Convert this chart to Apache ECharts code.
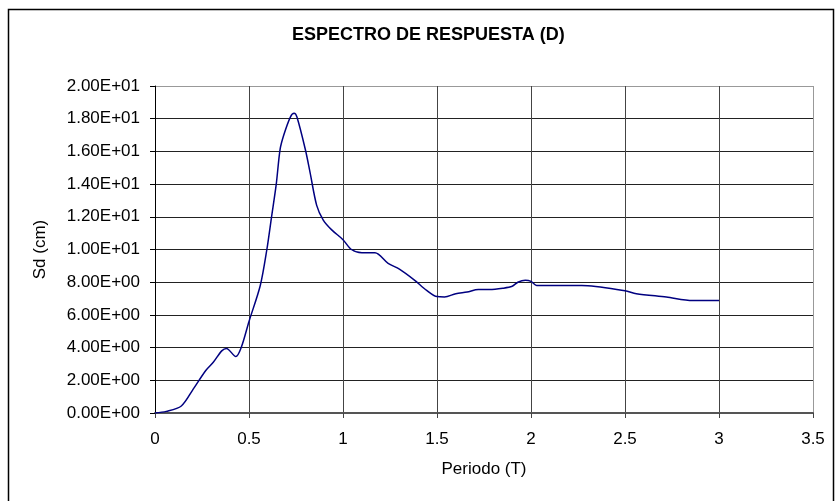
<!DOCTYPE html>
<html>
<head>
<meta charset="utf-8">
<script src="https://cdn.jsdelivr.net/npm/echarts@6/dist/echarts.min.js"></script>
<style>
html,body{margin:0;padding:0;background:#fff;}
#chart{width:835px;height:501px;}
</style>
</head>
<body>
<div id="chart"></div>
<script>
var titleText = 'ESPECTRO DE RESPUESTA (D)';
var xName = 'Periodo (T)';
var yName = 'Sd (cm)';
var periods = [0, 0.06, 0.14, 0.2, 0.27, 0.31, 0.355, 0.38, 0.43, 0.46, 0.5, 0.56, 0.595, 0.62, 0.645, 0.665, 0.685, 0.72, 0.74, 0.755, 0.8, 0.825, 0.86, 0.895, 0.94, 1.0, 1.045, 1.1, 1.17, 1.24, 1.3, 1.38, 1.445, 1.5, 1.54, 1.6, 1.66, 1.72, 1.78, 1.85, 1.9, 1.93, 1.97, 2.0, 2.03, 2.1, 2.27, 2.5, 2.56, 2.72, 2.86, 3.0];
var sd = [0, 0.1, 0.43, 1.4, 2.6, 3.1, 3.8, 3.95, 3.45, 4.05, 5.6, 7.8, 10.0, 12.0, 14.0, 16.1, 17.0, 18.1, 18.33, 18.1, 16.1, 14.7, 12.7, 11.8, 11.2, 10.6, 10.0, 9.8, 9.8, 9.15, 8.8, 8.13, 7.5, 7.12, 7.1, 7.3, 7.4, 7.55, 7.55, 7.63, 7.75, 8.0, 8.12, 8.05, 7.8, 7.8, 7.8, 7.48, 7.3, 7.09, 6.88, 6.88];

function sci(v){
  var s = Number(v).toExponential(2).toUpperCase();
  var parts = s.split('E');
  var e = parseInt(parts[1], 10);
  var sign = e < 0 ? '-' : '+';
  var a = Math.abs(e);
  return parts[0] + 'E' + sign + (a < 10 ? '0' + a : a);
}

var pts = periods.map(function(p, i){ return [p, sd[i]]; });
var font = '"Liberation Sans", Arial, sans-serif';

var chart = echarts.init(document.getElementById('chart'), null, {renderer:'canvas'});
chart.setOption({
  animation: false,
  backgroundColor: '#fff',
  title: {
    text: titleText, left: 287, top: 21,
    textStyle: {fontFamily: font, fontSize: 18, fontWeight: 'bold', color: '#000'}
  },
  graphic: [{
    type: 'rect', silent: true,
    shape: {x: 8.5, y: 9.5, width: 825, height: 540},
    style: {fill: 'none', stroke: '#000', lineWidth: 1.5}
  }],
  grid: {left: 155, right: 22, top: 86, bottom: 88, containLabel: false},
  xAxis: {
    type: 'value', min: 0, max: 3.5, interval: 0.5,
    name: xName, nameLocation: 'middle', nameGap: 48,
    nameTextStyle: {fontFamily: font, fontSize: 17, color: '#000'},
    axisLine: {show: true, onZero: false, lineStyle: {color: '#555', width: 2}},
    axisTick: {show: true, length: 5, lineStyle: {color: '#444'}},
    axisLabel: {fontFamily: font, fontSize: 17, color: '#000', margin: 18,
      formatter: function(v){ return String(v); }},
    splitLine: {show: true, lineStyle: {color: ['#444','#444','#444','#444','#444','#444','#444','#999'], width: 1}}
  },
  yAxis: {
    type: 'value', min: 0, max: 20, interval: 2,
    name: yName, nameLocation: 'middle', nameGap: 106,
    nameTextStyle: {fontFamily: font, fontSize: 17, color: '#000'},
    axisLine: {show: true, lineStyle: {color: '#000', width: 1}},
    axisTick: {show: true, length: 5, lineStyle: {color: '#000'}},
    axisLabel: {fontFamily: font, fontSize: 17, color: '#000', margin: 15, formatter: sci},
    splitLine: {show: true, lineStyle: {color: ['#222','#222','#222','#222','#222','#222','#222','#222','#222','#222','#999'], width: 1}}
  },
  series: [{
    type: 'line', data: pts, smooth: 0.3, showSymbol: false,
    lineStyle: {color: '#000080', width: 1.5}
  }]
});
</script>
</body>
</html>
